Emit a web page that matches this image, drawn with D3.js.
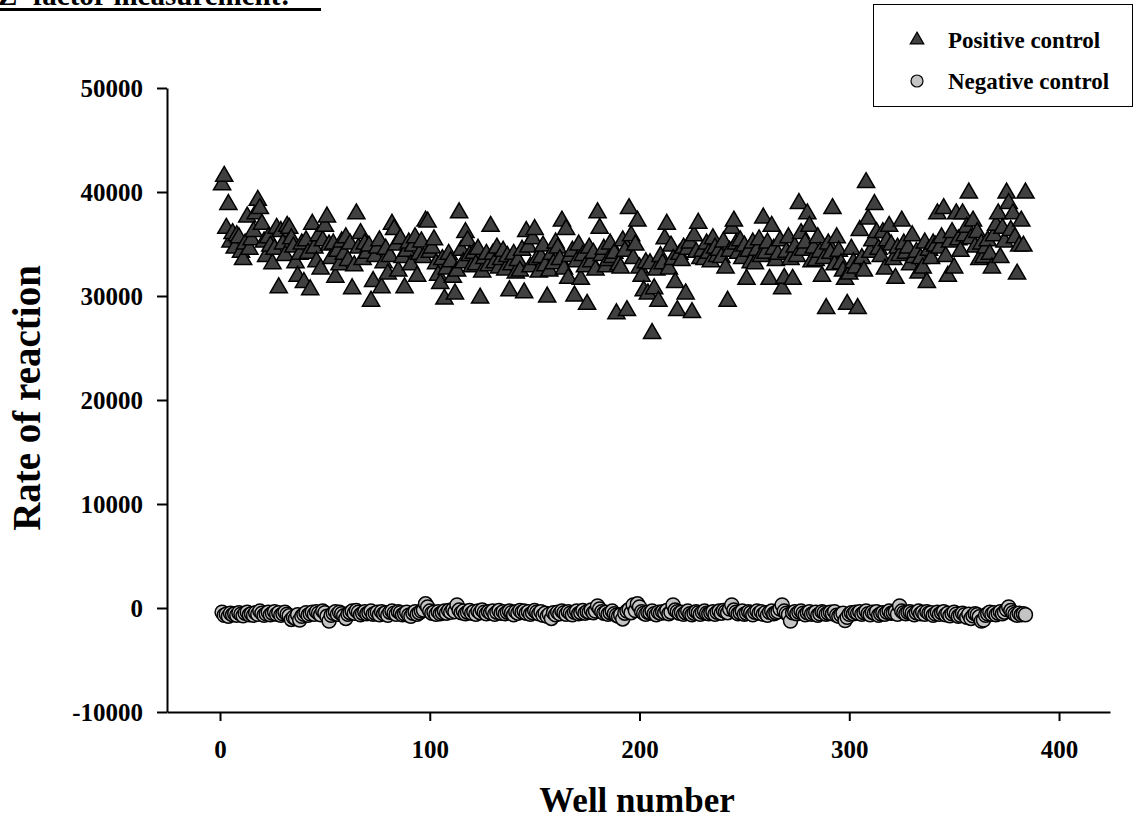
<!DOCTYPE html>
<html>
<head>
<meta charset="utf-8">
<script src="https://cdn.jsdelivr.net/npm/d3@7"></script>
<style>
    body { margin: 0; background: #fff; }
    svg { display: block; font-family: "Liberation Serif", "Times New Roman", serif; font-weight: bold; }
</style>
</head>
<body>
<svg id="chart_svg"></svg>
<script>
// positive control rate per well (1..384)
const positiveValues = [
    40700, 41500, 36500, 38800, 35200, 36000, 34600, 35800, 35600, 34200, 33500, 35000, 37600, 34500, 35400, 36200,
    37900, 39200, 38400, 36900, 35200, 33800, 35600, 34800, 33100, 34500, 36500, 30800, 36200, 35000, 33900, 36700,
    36500, 35500, 34700, 33200, 31900, 34000, 35000, 31300, 35300, 34100, 30600, 36900, 34600, 33300, 35800, 32600,
    35300, 36700, 37600, 34900, 33600, 35000, 31800, 34300, 33000, 35200, 34000, 35600, 33400, 35000, 30700, 32900,
    37900, 34600, 36000, 33500, 35000, 34100, 34800, 29500, 31400, 33800, 34600, 35300, 30800, 33200, 34500, 32100,
    33800, 36900, 36400, 34900, 32400, 35500, 33700, 30800, 34300, 35100, 33000, 34800, 35600, 31900, 34000, 35200,
    33700, 37200, 37100, 34200, 34600, 35400, 33100, 32000, 31200, 33500, 29700, 32600, 34000, 33300, 31800, 30200,
    32400, 38000, 34400, 33200, 36100, 35300, 33900, 32800, 34100, 33000, 34500, 29800, 32300, 33600, 34000, 32900,
    36700, 34000, 33200, 34600, 32700, 33500, 34300, 32500, 33800, 30500, 33000, 34000, 32200, 33400, 32400, 34400,
    30300, 36200, 34700, 32800, 35500, 36400, 33500, 32300, 33700, 34800, 32900, 29900, 32400, 34000, 33100, 35100,
    34600, 33500, 37200, 32600, 36400, 31700, 33800, 34300, 30000, 33300, 34900, 31600, 33900, 32800, 29200, 34600,
    33300, 34100, 32500, 38000, 36500, 33900, 34500, 32800, 33400, 35000, 33700, 34100, 28300, 33000, 32700, 35300,
    34300, 28600, 38400, 35800, 33600, 34900, 37200, 32700, 31900, 30500, 33200, 30200, 33100, 26400, 30700, 32500,
    29500, 33800, 33100, 35500, 36900, 32600, 34800, 33500, 31300, 28600, 34000, 33400, 34600, 30200, 34500, 35100,
    28400, 35800, 34200, 37000, 33600, 34300, 33500, 35000, 34100, 33300, 35500, 34600, 33800, 34400, 33700, 35200,
    32700, 29500, 34300, 36500, 37200, 35000, 34100, 35300, 33600, 34800, 31600, 34300, 33200, 35100, 33100, 34400,
    35400, 33800, 37500, 34100, 35100, 31600, 36700, 34500, 33400, 34000, 35300, 30700, 31700, 34200, 35600, 33500,
    31600, 34700, 33800, 38900, 36000, 34400, 35100, 37900, 36700, 33300, 34600, 33400, 35600, 34200, 31900, 33600,
    28800, 35000, 34100, 38400, 33000, 35600, 34300, 33100, 32400, 31600, 29200, 32100, 34500, 33200, 32700, 28800,
    36300, 33600, 32400, 40900, 37400, 34200, 35300, 38800, 36100, 34500, 33800, 36100, 32600, 35300, 36700, 34900,
    33500, 31700, 34600, 33900, 37200, 35000, 34100, 34600, 33000, 35800, 33700, 34200, 32200, 33600, 32700, 35100,
    31300, 34400, 33600, 35000, 34800, 37900, 34600, 35600, 38400, 33800, 31900, 35200, 36100, 32700, 37900, 35400,
    34300, 37900, 35800, 36600, 39900, 35500, 37200, 34700, 36100, 33500, 35000, 33700, 34600, 35300, 34000, 32700,
    35800, 36800, 37900, 33700, 36500, 35200, 39900, 38900, 36300, 37900, 35600, 32100, 34800, 37200, 34800, 39900
];

// negative control rate per well (1..384)
const negativeValues = [
    -400, -700, -600, -800, -500, -650, -550, -700, -450, -600, -750, -500, -400, -650, -550, -700,
    -450, -600, -300, -500, -700, -550, -400, -650, -500, -350, -600, -450, -700, -550, -400, -600,
    -750, -1100, -900, -1000, -650, -1150, -800, -600, -450, -700, -550, -400, -600, -350, -500, -650,
    -300, -450, -800, -1250, -700, -500, -350, -600, -400, -550, -750, -1000, -600, -450, -300, -500,
    -250, -400, -650, -500, -350, -550, -450, -300, -600, -500, -400, -650, -350, -550, -450, -700,
    -400, -300, -500, -600, -350, -450, -650, -550, -400, -700, -800, -500, -350, -600, -450, -300,
    -200, 400, 100, -300, -500, -400, -600, -350, -550, -450, -300, -500, -250, -400, -150, -350,
    300, -200, -450, -300, -550, -400, -250, -500, -350, -600, -300, -450, -200, -400, -550, -350,
    -450, -300, -600, -400, -250, -500, -350, -550, -400, -300, -450, -650, -350, -500, -250, -400,
    -300, -500, -350, -600, -450, -250, -400, -550, -350, -700, -500, -800, -600, -1000, -450, -650,
    -400, -550, -300, -450, -600, -350, -500, -650, -400, -300, -550, -450, -250, -500, -350, -400,
    -200, -450, -300, 200, -100, -350, -500, -400, -600, -450, -300, -550, -700, -800, -650, -1050,
    -500, -300, -150, -450, 300, -250, 400, 100, -350, -500, -600, -400, -450, -300, -550, -650,
    -400, -500, -350, -450, -250, -550, -400, 300, -200, -350, -500, -400, -600, -450, -300, -550,
    -650, -500, -350, -450, -600, -400, -300, -500, -550, -450, -350, -600, -400, -300, -500, -250,
    -350, -450, -100, 300, -200, -400, -550, -450, -300, -600, -500, -350, -450, -650, -400, -300,
    -500, -350, -600, -450, -700, -400, -300, -550, -450, -350, -100, 300, -300, -500, -650, -1250,
    -450, -350, -550, -400, -300, -500, -650, -450, -350, -600, -500, -400, -700, -550, -350, -450,
    -600, -500, -400, -550, -350, -700, -800, -650, -500, -1200, -900, -600, -450, -550, -400, -500,
    -350, -600, -450, -300, -550, -650, -400, -500, -350, -700, -550, -450, -600, -400, -300, -500,
    -450, -350, -600, 200, -300, -450, -550, -400, -350, -500, -650, -450, -300, -550, -400, -600,
    -350, -500, -450, -700, -550, -400, -600, -450, -350, -650, -500, -750, -550, -400, -600, -800,
    -700, -500, -650, -900, -600, -1000, -750, -550, -650, -850, -1250, -1150, -700, -550, -400, -600,
    -450, -650, -500, -350, -550, -400, -150, 100, -250, -450, -600, -700, -500, -650, -550, -650
];

const wells = d3.range(1, positiveValues.length + 1);
const xTicks = [0, 100, 200, 300, 400];
const yTicks = [-10000, 0, 10000, 20000, 30000, 40000, 50000];
const legendLabels = ["Positive control", "Negative control"];

function drawChart() {
    const width = 1136, height = 822;

    const svg = d3.select("#chart_svg")
        .attr("width", width)
        .attr("height", height);

    svg.selectAll("*").remove();

    const x = d3.scaleLinear()
        .domain([-25.27, 424.3])
        .range([167, 1110]);

    const y = d3.scaleLinear()
        .domain([-10000, 50000])
        .range([712, 88]);

    // title, mostly cut off at the top edge
    svg.append("text")
        .attr("x", -2)
        .attr("y", 5)
        .style("font-size", "29px")
        .text("Z' factor measurement:");
    svg.append("rect")
        .attr("x", 0).attr("y", 8)
        .attr("width", 321).attr("height", 3)
        .style("fill", "#000");

    // axes, plain integer labels with ascii minus
    const xAxis = svg.append("g")
        .attr("transform", `translate(0,${y(-10000)})`)
        .call(d3.axisBottom(x).tickValues(xTicks).tickFormat(d => String(d))
            .tickSize(9).tickPadding(19).tickSizeOuter(0));

    const yAxis = svg.append("g")
        .attr("transform", `translate(${x.range()[0]},0)`)
        .call(d3.axisLeft(y).tickValues(yTicks).tickFormat(d => String(d))
            .tickSize(10).tickPadding(14).tickSizeOuter(0));

    [xAxis, yAxis].forEach(g => {
        g.select(".domain").style("stroke", "#000").style("stroke-width", 2);
        g.selectAll(".tick line").style("stroke", "#000").style("stroke-width", 2);
        g.selectAll(".tick text")
            .style("font-family", "'Liberation Serif', serif")
            .style("font-weight", "bold")
            .style("font-size", "25px")
            .style("fill", "#000");
    });

    // axis titles
    svg.append("text")
        .attr("x", 637)
        .attr("y", 812)
        .attr("text-anchor", "middle")
        .style("font-size", "35px")
        .text("Well number");

    svg.append("text")
        .attr("transform", "translate(40,398) rotate(-90)")
        .attr("text-anchor", "middle")
        .style("font-size", "39px")
        .text("Rate of reaction");

    const triangle = d3.symbol().type(d3.symbolTriangle).size(128);
    const smallTriangle = d3.symbol().type(d3.symbolTriangle).size(80);

    // positive control triangles
    svg.append("g")
        .selectAll("path")
        .data(wells)
        .enter().append("path")
        .attr("d", triangle)
        .attr("transform", (d, i) => `translate(${x(d)},${y(positiveValues[i])})`)
        .style("fill", "#404040")
        .style("stroke", "#000")
        .style("stroke-width", 1.5);

    // negative control circles
    svg.append("g")
        .selectAll("circle")
        .data(wells)
        .enter().append("circle")
        .attr("cx", d => x(d))
        .attr("cy", (d, i) => y(negativeValues[i]))
        .attr("r", 7)
        .style("fill", "#c4c4c4")
        .style("stroke", "#000")
        .style("stroke-width", 1.5);

    // legend
    const legend = svg.append("g");
    legend.append("rect")
        .attr("x", 873.5).attr("y", 4.5)
        .attr("width", 259).attr("height", 102)
        .style("fill", "#fff")
        .style("stroke", "#000")
        .style("stroke-width", 1);

    legendLabels.forEach((label, i) => {
        const ly = 40 + i * 41;
        if (i === 0) {
            legend.append("path")
                .attr("d", smallTriangle)
                .attr("transform", `translate(917,${ly})`)
                .style("fill", "#404040")
                .style("stroke", "#000")
                .style("stroke-width", 1.2);
        } else {
            legend.append("circle")
                .attr("cx", 917).attr("cy", ly)
                .attr("r", 6)
                .style("fill", "#c4c4c4")
                .style("stroke", "#000")
                .style("stroke-width", 1.2);
        }
        legend.append("text")
            .attr("x", 948)
            .attr("y", ly + 8)
            .style("font-size", "23px")
            .text(label);
    });
}

drawChart();
</script>
</body>
</html>
